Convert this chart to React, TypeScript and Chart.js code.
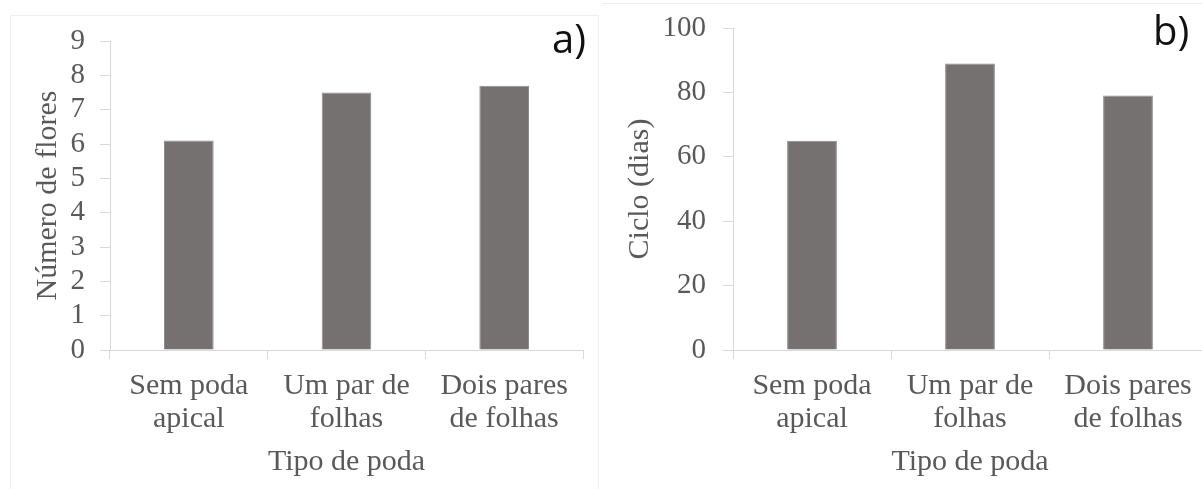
import React, { useEffect, useRef } from 'react';
import { Chart, registerables } from 'chart.js';

Chart.register(...registerables);

// ---- data ----
const categories: string[][] = [
  ['Sem poda', 'apical'],
  ['Um par de', 'folhas'],
  ['Dois pares', 'de folhas'],
];
const numeroFlores: number[] = [6.1, 7.5, 7.7];
const cicloDias: number[] = [65, 89, 79];
const floresAxis = { min: 0, max: 9, step: 1 };
const cicloAxis = { min: 0, max: 100, step: 20 };
const xTitle = 'Tipo de poda';
const yTitleA = 'Número de flores';
const yTitleB = 'Ciclo (dias)';

const SERIF = "'Liberation Serif', 'Times New Roman', serif";
const TEXT = '#595959';
const AXIS = '#d9d9d9';
const BAR = '#767171';

type PanelProps = {
  values: number[];
  axis: { min: number; max: number; step: number };
  yTitle: string;
  label: string;
  left: number;
  width: number;
  padTop: number;
  padRight: number;
  yAxisWidth: number;
  yTitlePad: number;
  yTickPad: number;
  labelX: number;
  labelY: number;
};

function Panel(p: PanelProps) {
  const ref = useRef<HTMLCanvasElement | null>(null);
  useEffect(() => {
    if (!ref.current) return;
    const panelPlugin = {
      id: 'panelLabel',
      afterDraw(chart: any) {
        const ctx = chart.ctx;
        ctx.save();
        ctx.font = "40px 'Open Sans', sans-serif";
        ctx.fillStyle = '#111111';
        ctx.textBaseline = 'alphabetic';
        ctx.textAlign = 'left';
        ctx.fillText(p.label, p.labelX, p.labelY);
        ctx.restore();
      },
    };
    const chart = new Chart(ref.current, {
      type: 'bar',
      data: {
        labels: categories,
        datasets: [
          {
            data: p.values,
            backgroundColor: BAR,
            borderColor: '#8e8a8a',
            borderWidth: 1,
            barPercentage: 0.315,
            categoryPercentage: 1,
          },
        ],
      },
      options: {
        animation: false,
        responsive: false,
        layout: { padding: { left: 0, top: p.padTop, right: p.padRight, bottom: 0 } },
        plugins: { legend: { display: false }, tooltip: { enabled: false } },
        scales: {
          x: {
            grid: { display: true, drawOnChartArea: false, drawTicks: true, tickLength: 9, color: AXIS, offset: true },
            border: { display: true, color: AXIS, width: 1 },
            ticks: {
              color: TEXT,
              font: { family: SERIF, size: 30, lineHeight: 1.1 },
              padding: 11,
              maxRotation: 0,
              minRotation: 0,
              autoSkip: false,
            },
            title: {
              display: true,
              text: xTitle,
              color: TEXT,
              font: { family: SERIF, size: 30, lineHeight: 1.2 },
              padding: { top: 0, bottom: 9 },
            },
            afterFit(scale: any) {
              scale.height = 139;
              scale.paddingLeft = 0;
              scale.paddingRight = 0;
            },
          },
          y: {
            min: p.axis.min,
            max: p.axis.max,
            grid: { display: true, drawOnChartArea: false, drawTicks: true, tickLength: 10, color: AXIS },
            border: { display: true, color: AXIS, width: 1 },
            ticks: {
              stepSize: p.axis.step,
              autoSkip: false,
              color: TEXT,
              font: { family: SERIF, size: 29, lineHeight: 1.2 },
              padding: p.yTickPad,
            },
            title: {
              display: true,
              text: p.yTitle,
              color: TEXT,
              font: { family: SERIF, size: 30, lineHeight: 1.2 },
              padding: { top: p.yTitlePad, bottom: 0 },
            },
            afterFit(scale: any) {
              scale.width = p.yAxisWidth;
              scale.paddingTop = 0;
              scale.paddingBottom = 0;
            },
          },
        },
      },
      plugins: [panelPlugin],
    } as any);
    return () => chart.destroy();
  }, []);
  return (
    <canvas
      ref={ref}
      width={p.width}
      height={489}
      style={{ position: 'absolute', left: p.left, top: 0, width: p.width, height: 489 }}
    />
  );
}

export default function App() {
  return (
    <div
      style={{
        position: 'absolute',
        left: 0,
        top: 0,
        width: 1202,
        height: 489,
        overflow: 'hidden',
        background: '#ffffff',
      }}
    >
      <div
        style={{
          position: 'absolute',
          left: 10,
          top: 15,
          width: 587,
          height: 480,
          borderTop: '1px solid #eeeeee',
          borderLeft: '1px solid #eeeeee',
          borderRight: '1px solid #eeeeee',
        }}
      />
      <div
        style={{
          position: 'absolute',
          left: 602,
          top: 3,
          width: 620,
          height: 0,
          borderTop: '1px solid #eeeeee',
        }}
      />
      <Panel
        values={numeroFlores}
        axis={floresAxis}
        yTitle={yTitleA}
        label="a)"
        left={0}
        width={600}
        padTop={41}
        padRight={17}
        yAxisWidth={110}
        yTitlePad={30}
        yTickPad={15}
        labelX={552}
        labelY={53}
      />
      <Panel
        values={cicloDias}
        axis={cicloAxis}
        yTitle={yTitleB}
        label="b)"
        left={600}
        width={620}
        padTop={28}
        padRight={13}
        yAxisWidth={133}
        yTitlePad={22}
        yTickPad={17}
        labelX={553}
        labelY={45}
      />
    </div>
  );
}
